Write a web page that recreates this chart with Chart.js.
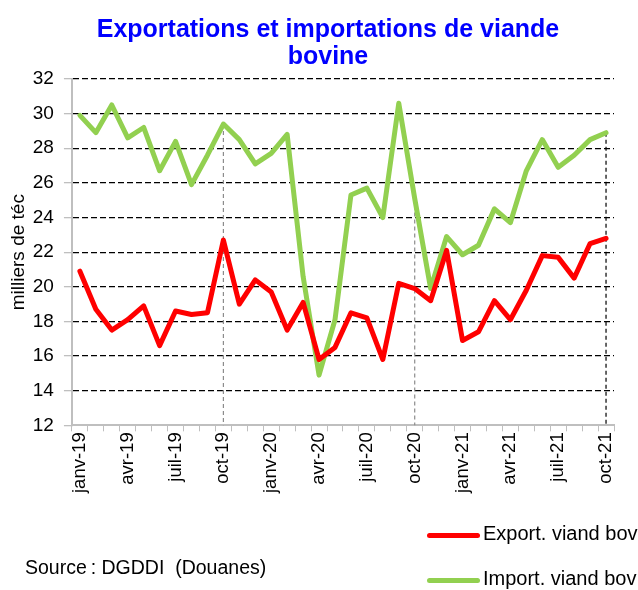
<!DOCTYPE html>
<html>
<head>
<meta charset="utf-8">
<script src="https://cdn.jsdelivr.net/npm/chart.js@4"></script>
<style>
  html, body { margin:0; padding:0; background:#fff; }
  #wrap { position:relative; width:638px; height:590px; overflow:hidden; font-family:"Liberation Sans", Arial, sans-serif; }
  #c { position:absolute; left:0; top:0; }
  .title { position:absolute; left:128px; width:400px; text-align:center; color:#0000ff; font-weight:bold; font-size:25px; line-height:27px; top:15px; }
  .title span { display:block; white-space:nowrap; margin-left:-100px; margin-right:-100px; }
  .leg { position:absolute; font-size:20px; color:#000; white-space:nowrap; }
  .leg i { position:absolute; left:-56px; width:53px; height:5px; border-radius:3px; top:11px; }
  .src { position:absolute; left:25px; top:556px; font-size:19.5px; white-space:nowrap; }
</style>
</head>
<body>
<div id="wrap">
  <canvas id="c" width="638" height="590"></canvas>
  <div class="title"><span>Exportations et importations de viande</span><span>bovine</span></div>
  <div class="leg" style="left:483px; top:522px;"><i style="background:#ff0000"></i>Export. viand bov</div>
  <div class="leg" style="left:483px; top:567px;"><i style="background:#92d050"></i>Import. viand bov</div>
  <div class="src">Source&#8201;: DGDDI&nbsp; (Douanes)</div>
</div>
<script>
const months = [
  'janv-19','févr-19','mars-19','avr-19','mai-19','juin-19','juil-19','août-19','sept-19','oct-19','nov-19','déc-19',
  'janv-20','févr-20','mars-20','avr-20','mai-20','juin-20','juil-20','août-20','sept-20','oct-20','nov-20','déc-20',
  'janv-21','févr-21','mars-21','avr-21','mai-21','juin-21','juil-21','août-21','sept-21','oct-21'
];
const exportValues = [
  20.9, 18.7, 17.5, 18.1, 18.9, 16.6, 18.6, 18.4, 18.5, 22.7, 19.0, 20.4,
  19.7, 17.5, 19.1, 15.8, 16.5, 18.5, 18.2, 15.8, 20.2, 19.9, 19.2, 22.1,
  16.9, 17.4, 19.2, 18.1, 19.8, 21.8, 21.7, 20.5, 22.5, 22.8
];
const importValues = [
  29.9, 28.9, 30.5, 28.6, 29.2, 26.7, 28.4, 25.9, 27.6, 29.4, 28.5, 27.1,
  27.7, 28.8, 20.6, 14.9, 18.1, 25.3, 25.7, 24.0, 30.6, 25.1, 19.9, 22.9,
  21.85, 22.4, 24.5, 23.7, 26.7, 28.5, 26.9, 27.6, 28.5, 28.9
];
const yTicks = [12, 14, 16, 18, 20, 22, 24, 26, 28, 30, 32];
const dropIndices = [9, 21, 33];

const dropLines = {
  id: 'dropLines',
  beforeDatasetsDraw(chart) {
    const ctx = chart.ctx, x = chart.scales.x, y = chart.scales.y;
    dropIndices.forEach((idx, k) => {
      const px = x.getPixelForValue(idx);
      const top = y.getPixelForValue(importValues[idx]);
      ctx.save();
      ctx.beginPath();
      ctx.setLineDash([4, 3]);
      ctx.lineWidth = 1.2;
      ctx.strokeStyle = k === 2 ? '#000000' : '#8c8c8c';
      ctx.moveTo(px, top);
      ctx.lineTo(px, chart.chartArea.bottom);
      ctx.stroke();
      ctx.restore();
    });
  }
};

new Chart(document.getElementById('c'), {
  type: 'line',
  data: {
    labels: months,
    datasets: [
      { label: 'Export. viand bov', data: exportValues, borderColor: '#ff0000', borderWidth: 5, pointRadius: 0, tension: 0, borderCapStyle: 'round', borderJoinStyle: 'round' },
      { label: 'Import. viand bov', data: importValues, borderColor: '#92d050', borderWidth: 5, pointRadius: 0, tension: 0, borderCapStyle: 'round', borderJoinStyle: 'round' }
    ]
  },
  options: {
    responsive: false,
    animation: false,
    layout: { padding: { top: 79, left: 0, right: 24, bottom: 96 } },
    plugins: { legend: { display: false }, title: { display: false }, tooltip: { enabled: false } },
    scales: {
      x: {
        type: 'category',
        offset: true,
        grid: { offset: true, drawOnChartArea: false, drawTicks: true, tickLength: 6, color: '#bfbfbf', lineWidth: 1 },
        border: { display: true, color: '#bfbfbf', width: 2 },
        ticks: {
          autoSkip: false, maxRotation: 90, minRotation: 90, padding: 1,
          color: '#000', font: { family: '"Liberation Sans", Arial, sans-serif', size: 18.5 },
          callback: function(v, i) { return i % 3 === 0 ? months[i] : ''; }
        }
      },
      y: {
        min: 12, max: 32,
        afterBuildTicks: (s) => { s.ticks = yTicks.map(v => ({ value: v })); },
        grid: {
          color: (c) => (c.tick && c.tick.value === 12) ? 'rgba(0,0,0,0)' : '#000000',
          tickColor: '#bfbfbf', tickLength: 8, lineWidth: 1.3, drawTicks: true
        },
        border: { display: true, color: '#bfbfbf', width: 2, dash: [6, 3] },
        ticks: { color: '#000', padding: 10, font: { family: '"Liberation Sans", Arial, sans-serif', size: 19 } },
        title: { display: true, text: 'milliers de téc', color: '#000', padding: { top: 7, bottom: -7 }, font: { family: '"Liberation Sans", Arial, sans-serif', size: 19 } }
      }
    }
  },
  plugins: [dropLines]
});
</script>
</body>
</html>
